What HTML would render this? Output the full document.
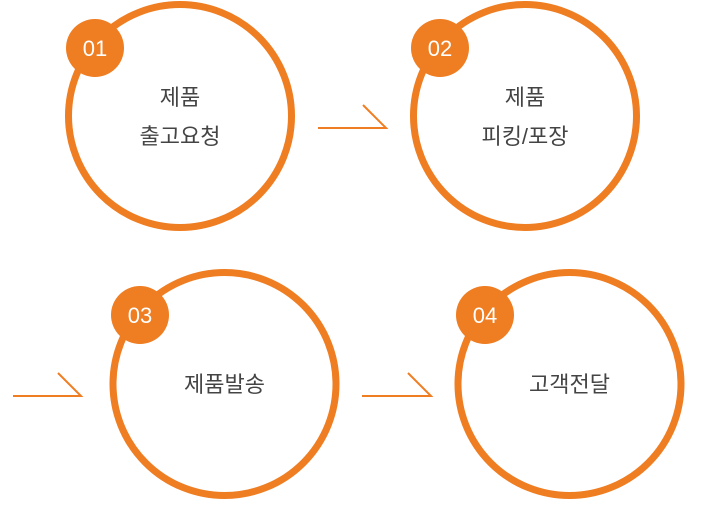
<!DOCTYPE html>
<html><head><meta charset="utf-8"><style>
html,body{margin:0;padding:0;background:#fff;}
body{width:705px;height:500px;overflow:hidden;}
text{font-family:"Liberation Sans","Noto Sans CJK KR",sans-serif;}
</style></head><body>
<svg width="705" height="500" viewBox="0 0 705 500" xmlns="http://www.w3.org/2000/svg">
<g fill="none" stroke="#ef7d22" stroke-width="7">
<circle cx="180" cy="116" r="111.5"/>
<circle cx="525" cy="116" r="111.5"/>
<circle cx="224.5" cy="384" r="111.5"/>
<circle cx="569.5" cy="384" r="111.5"/>
</g>
<g fill="none" stroke="#ef7d22" stroke-width="2">
<polyline points="318,128 386,128 363,105"/>
<polyline points="13,396 81,396 58,373"/>
<polyline points="362,396 431,396 408,373"/>
</g>
<g fill="#ef7d22">
<circle cx="95" cy="48" r="29"/>
<circle cx="440" cy="48" r="29"/>
<circle cx="140" cy="315" r="29"/>
<circle cx="485" cy="315" r="29"/>
</g>
<g fill="#fff" font-size="22" text-anchor="middle">
<text x="95" y="56">01</text>
<text x="440" y="56">02</text>
<text x="140" y="323">03</text>
<text x="485" y="323">04</text>
</g>
<g fill="#444" font-size="22" text-anchor="middle">
<text x="180" y="105">제품</text>
<text x="180" y="144">출고요청</text>
<text x="525" y="105">제품</text>
<text x="525" y="144">피킹/포장</text>
<text x="224.5" y="392">제품발송</text>
<text x="569.5" y="392">고객전달</text>
</g>
</svg>
</body></html>
